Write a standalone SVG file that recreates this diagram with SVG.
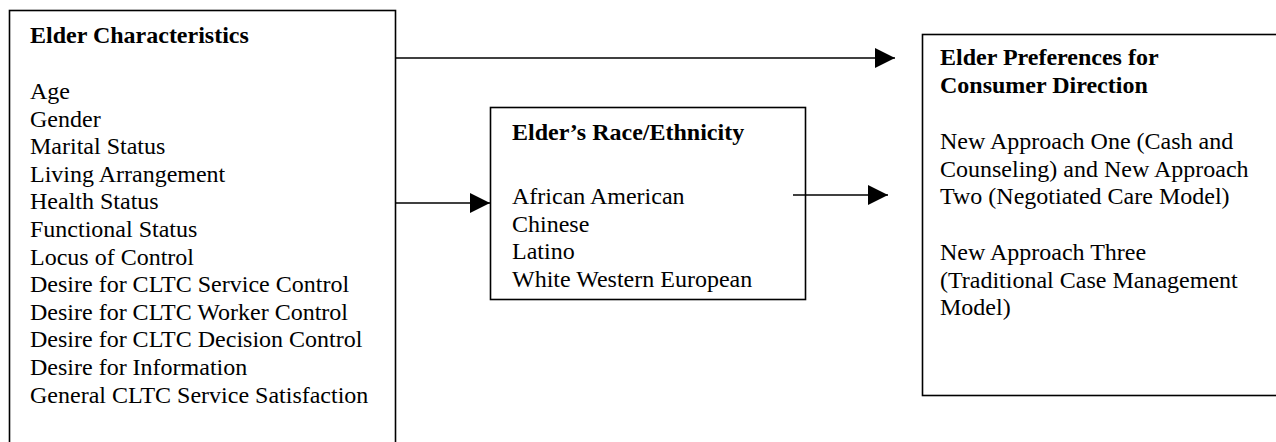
<svg xmlns="http://www.w3.org/2000/svg" width="1276" height="442" viewBox="0 0 1276 442">
<style>
.box{fill:#fff;stroke:#000;stroke-width:1.6}
.t{font-family:"Liberation Serif","Times New Roman",serif;font-size:24px;fill:#000}
.b{font-weight:bold}
.c{stroke:#000;stroke-width:1.4;fill:none}
</style>
<defs>
<marker id="ah" markerUnits="userSpaceOnUse" markerWidth="20" markerHeight="20" refX="20" refY="10" orient="auto">
<path d="M0,0 L20,10 L0,20 Z" fill="#000"/>
</marker>
</defs>
<rect width="1276" height="442" fill="#fff"/>
<g id="elder-characteristics">
<rect class="box" x="9.5" y="10.5" width="386" height="440"/>
<text class="t b" x="30" y="43">Elder Characteristics</text>
<text class="t" x="30" y="99">Age</text>
<text class="t" x="30" y="126.6">Gender</text>
<text class="t" x="30" y="154.2">Marital Status</text>
<text class="t" x="30" y="181.8">Living Arrangement</text>
<text class="t" x="30" y="209.4">Health Status</text>
<text class="t" x="30" y="237">Functional Status</text>
<text class="t" x="30" y="264.6">Locus of Control</text>
<text class="t" x="30" y="292.2">Desire for CLTC Service Control</text>
<text class="t" x="30" y="319.8">Desire for CLTC Worker Control</text>
<text class="t" x="30" y="347.4">Desire for CLTC Decision Control</text>
<text class="t" x="30" y="375">Desire for Information</text>
<text class="t" x="30" y="402.6">General CLTC Service Satisfaction</text>
</g>
<g id="race-ethnicity">
<rect class="box" x="490.5" y="107.5" width="315" height="192"/>
<text class="t b" x="512" y="140">Elder’s Race/Ethnicity</text>
<text class="t" x="512" y="204">African American</text>
<text class="t" x="512" y="231.6">Chinese</text>
<text class="t" x="512" y="259.2">Latino</text>
<text class="t" x="512" y="286.8">White Western European</text>
</g>
<g id="preferences">
<rect class="box" x="922.5" y="34.5" width="370" height="361"/>
<text class="t b" x="940" y="65">Elder Preferences for</text>
<text class="t b" x="940" y="93">Consumer Direction</text>
<text class="t" x="940" y="149">New Approach One (Cash and</text>
<text class="t" x="940" y="176.6">Counseling) and New Approach</text>
<text class="t" x="940" y="204.2">Two (Negotiated Care Model)</text>
<text class="t" x="940" y="260">New Approach Three</text>
<text class="t" x="940" y="287.6">(Traditional Case Management</text>
<text class="t" x="940" y="315.2">Model)</text>
</g>
<g id="connectors">
<line class="c" x1="396" y1="58" x2="895" y2="58" marker-end="url(#ah)"/>
<line class="c" x1="396" y1="203" x2="490" y2="203" marker-end="url(#ah)"/>
<line class="c" x1="793" y1="195" x2="888" y2="195" marker-end="url(#ah)"/>
</g>
</svg>
